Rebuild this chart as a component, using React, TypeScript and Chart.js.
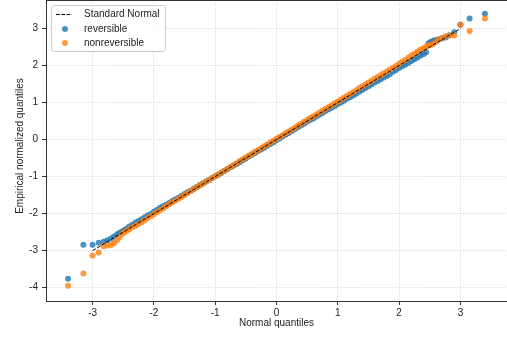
import React, { useEffect, useRef } from "react";
import { Chart, registerables } from "chart.js";

Chart.register(...registerables);

// Theoretical normal quantiles (shared x positions)
const normalQuantiles = [
  -3.40, -3.15, -3.00, -2.90, -2.82, -2.76, -2.70, -2.65, -2.60, -2.56, -2.52, -2.48, -2.44,
  -2.40, -2.35, -2.30, -2.25, -2.20, -2.15, -2.10, -2.05, -2.00, -1.95, -1.90, -1.85, -1.80,
  -1.75, -1.70, -1.65, -1.60, -1.55, -1.50, -1.45, -1.40, -1.35, -1.30, -1.25, -1.20, -1.15,
  -1.10, -1.05, -1.00, -0.95, -0.90, -0.85, -0.80, -0.75, -0.70, -0.65, -0.60, -0.55, -0.50,
  -0.45, -0.40, -0.35, -0.30, -0.25, -0.20, -0.15, -0.10, -0.05, 0.00, 0.05, 0.10, 0.15,
  0.20, 0.25, 0.30, 0.35, 0.40, 0.45, 0.50, 0.55, 0.60, 0.65, 0.70, 0.75, 0.80, 0.85,
  0.90, 0.95, 1.00, 1.05, 1.10, 1.15, 1.20, 1.25, 1.30, 1.35, 1.40, 1.45, 1.50, 1.55,
  1.60, 1.65, 1.70, 1.75, 1.80, 1.85, 1.90, 1.95, 2.00, 2.05, 2.10, 2.15, 2.20, 2.25,
  2.30, 2.35, 2.40, 2.44, 2.48, 2.52, 2.56, 2.60, 2.65, 2.70, 2.76, 2.82, 2.90, 3.00,
  3.15, 3.40,
];

// Empirical normalized quantiles, reversible
const reversible = [
  -3.76, -2.84, -2.84, -2.79, -2.76, -2.72, -2.67, -2.62, -2.56, -2.52, -2.48, -2.44, -2.40,
  -2.35, -2.30, -2.24, -2.20, -2.15, -2.10, -2.05, -2.01, -1.95, -1.90, -1.84, -1.80, -1.76,
  -1.71, -1.66, -1.61, -1.57, -1.52, -1.47, -1.42, -1.38, -1.33, -1.28, -1.23, -1.18, -1.13,
  -1.09, -1.04, -0.99, -0.95, -0.90, -0.85, -0.80, -0.75, -0.71, -0.66, -0.61, -0.56, -0.51,
  -0.46, -0.41, -0.36, -0.31, -0.27, -0.22, -0.17, -0.12, -0.07, -0.02, 0.03, 0.08, 0.13,
  0.18, 0.23, 0.28, 0.33, 0.38, 0.43, 0.48, 0.53, 0.57, 0.62, 0.67, 0.72, 0.77, 0.82,
  0.86, 0.91, 0.96, 1.00, 1.05, 1.10, 1.14, 1.19, 1.24, 1.29, 1.34, 1.39, 1.44, 1.49,
  1.54, 1.58, 1.63, 1.68, 1.72, 1.77, 1.83, 1.88, 1.93, 1.98, 2.02, 2.07, 2.12, 2.17,
  2.22, 2.27, 2.31, 2.36, 2.60, 2.64, 2.67, 2.69, 2.71, 2.73, 2.76, 2.82, 2.90, 3.10,
  3.27, 3.40,
];

// Empirical normalized quantiles, nonreversible
const nonreversible = [
  -3.95, -3.62, -3.13, -3.05, -2.88, -2.86, -2.85, -2.80, -2.72, -2.63, -2.55, -2.50, -2.46,
  -2.42, -2.37, -2.33, -2.28, -2.23, -2.18, -2.12, -2.07, -2.02, -1.96, -1.91, -1.86, -1.80,
  -1.75, -1.70, -1.65, -1.60, -1.55, -1.50, -1.44, -1.39, -1.34, -1.29, -1.24, -1.19, -1.14,
  -1.09, -1.04, -0.99, -0.94, -0.89, -0.84, -0.79, -0.74, -0.69, -0.64, -0.58, -0.53, -0.48,
  -0.43, -0.38, -0.33, -0.28, -0.23, -0.18, -0.13, -0.08, -0.03, 0.02, 0.07, 0.12, 0.17,
  0.22, 0.27, 0.32, 0.38, 0.43, 0.48, 0.53, 0.58, 0.63, 0.68, 0.73, 0.78, 0.83, 0.88,
  0.93, 0.98, 1.03, 1.08, 1.13, 1.18, 1.23, 1.28, 1.33, 1.39, 1.44, 1.49, 1.54, 1.59,
  1.64, 1.69, 1.74, 1.79, 1.84, 1.89, 1.94, 1.99, 2.05, 2.10, 2.15, 2.21, 2.27, 2.32,
  2.38, 2.43, 2.47, 2.51, 2.54, 2.56, 2.59, 2.64, 2.70, 2.75, 2.79, 2.81, 2.81, 3.10,
  2.93, 3.27,
];

// Standard normal reference line endpoints
const refLine = [-3, 3];

const xTicks = [-3, -2, -1, 0, 1, 2, 3];
const yTicks = [-4, -3, -2, -1, 0, 1, 2, 3];
const xLimits = [-3.76, 3.76];
const yLimits = [-4.36, 3.77];

const seriesLabels = ["Standard Normal", "reversible", "nonreversible"];
const xTitle = "Normal quantiles";
const yTitle = "Empirical normalized quantiles";

const BLUE = "rgba(31,119,180,0.8)";
const ORANGE = "rgba(255,127,14,0.8)";
const FONT = "'Liberation Sans', Arial, sans-serif";

const zeroPad = (s: any) => {
  s.paddingTop = 0;
  s.paddingBottom = 0;
  s.paddingLeft = 0;
  s.paddingRight = 0;
};

export default function App() {
  const ref = useRef<HTMLCanvasElement>(null);

  useEffect(() => {
    const canvas = ref.current;
    if (!canvas) return;

    const overlay = {
      id: "overlay",
      afterDraw(chart: any) {
        const ctx = chart.ctx as CanvasRenderingContext2D;
        const a = chart.chartArea;
        ctx.save();
        // top spine
        ctx.strokeStyle = "#333";
        ctx.lineWidth = 1;
        ctx.beginPath();
        ctx.moveTo(a.left, a.top + 0.5);
        ctx.lineTo(a.right, a.top + 0.5);
        ctx.stroke();

        // axis titles
        ctx.fillStyle = "#222";
        ctx.font = `10px ${FONT}`;
        ctx.textAlign = "center";
        ctx.textBaseline = "middle";
        ctx.fillText(xTitle, (a.left + a.right) / 2, 323);
        ctx.save();
        ctx.translate(20, 146);
        ctx.rotate(-Math.PI / 2);
        ctx.fillText(yTitle, 0, 0);
        ctx.restore();

        // legend
        const lx = 51.5, ly = 5.5, lw = 114, lh = 46, r = 3;
        ctx.beginPath();
        ctx.moveTo(lx + r, ly);
        ctx.lineTo(lx + lw - r, ly);
        ctx.arcTo(lx + lw, ly, lx + lw, ly + r, r);
        ctx.lineTo(lx + lw, ly + lh - r);
        ctx.arcTo(lx + lw, ly + lh, lx + lw - r, ly + lh, r);
        ctx.lineTo(lx + r, ly + lh);
        ctx.arcTo(lx, ly + lh, lx, ly + lh - r, r);
        ctx.lineTo(lx, ly + r);
        ctx.arcTo(lx, ly, lx + r, ly, r);
        ctx.closePath();
        ctx.fillStyle = "rgba(255,255,255,0.8)";
        ctx.fill();
        ctx.strokeStyle = "#cccccc";
        ctx.lineWidth = 1;
        ctx.stroke();

        ctx.strokeStyle = "#000";
        ctx.lineWidth = 1;
        ctx.setLineDash([3.7, 1.6]);
        ctx.beginPath();
        ctx.moveTo(56, 14.5);
        ctx.lineTo(72, 14.5);
        ctx.stroke();
        ctx.setLineDash([]);

        ctx.fillStyle = BLUE;
        ctx.beginPath();
        ctx.arc(65, 29, 3, 0, Math.PI * 2);
        ctx.fill();
        ctx.fillStyle = ORANGE;
        ctx.beginPath();
        ctx.arc(65, 43, 3, 0, Math.PI * 2);
        ctx.fill();

        ctx.fillStyle = "#222";
        ctx.textAlign = "left";
        ctx.textBaseline = "middle";
        ctx.fillText(seriesLabels[0], 84, 14.5);
        ctx.fillText(seriesLabels[1], 84, 29);
        ctx.fillText(seriesLabels[2], 84, 43);
        ctx.restore();
      },
    };

    const axisCommon = {
      type: "linear" as const,
      ticks: {
        color: "#222",
        font: { family: FONT, size: 10 },
        callback: (v: any) => String(v),
      },
      grid: {
        color: "#c8c8c8",
        lineWidth: 0.8,
        tickLength: 4,
        tickColor: "#333",
        tickWidth: 1,
      },
      border: { display: true, color: "#333", width: 1, dash: [1, 1.6] },
    };

    const chart = new Chart(canvas, {
      type: "scatter",
      data: {
        datasets: [
          {
            label: seriesLabels[0],
            data: refLine.map((v) => ({ x: v, y: v })),
            showLine: true,
            borderColor: "#000",
            borderWidth: 1,
            borderDash: [3.7, 1.6],
            pointRadius: 0,
            fill: false,
          } as any,
          {
            label: seriesLabels[2],
            data: normalQuantiles.map((x, i) => ({ x, y: nonreversible[i] })),
            backgroundColor: ORANGE,
            borderWidth: 0,
            pointRadius: 3,
          },
          {
            label: seriesLabels[1],
            data: normalQuantiles.map((x, i) => ({ x, y: reversible[i] })),
            backgroundColor: BLUE,
            borderWidth: 0,
            pointRadius: 3,
          },
        ],
      },
      options: {
        responsive: false,
        animation: false,
        layout: { padding: 0, autoPadding: false },
        plugins: { legend: { display: false }, tooltip: { enabled: false } },
        scales: {
          x: {
            ...axisCommon,
            min: xLimits[0],
            max: xLimits[1],
            ticks: { ...axisCommon.ticks, padding: 2, maxRotation: 0 },
            afterBuildTicks: (s: any) => {
              s.ticks = xTicks.map((v) => ({ value: v }));
            },
            afterFit: (s: any) => {
              s.height = 36;
              zeroPad(s);
            },
          },
          y: {
            ...axisCommon,
            min: yLimits[0],
            max: yLimits[1],
            ticks: { ...axisCommon.ticks, padding: 4 },
            afterBuildTicks: (s: any) => {
              s.ticks = yTicks.map((v) => ({ value: v }));
            },
            afterFit: (s: any) => {
              s.width = 46;
              zeroPad(s);
            },
          },
        },
      } as any,
      plugins: [overlay],
    });

    return () => chart.destroy();
  }, []);

  return (
    <div style={{ position: "fixed", left: 0, top: 0, width: 507, height: 337, background: "#fff" }}>
      <canvas ref={ref} width={507} height={337} style={{ display: "block" }} />
    </div>
  );
}
